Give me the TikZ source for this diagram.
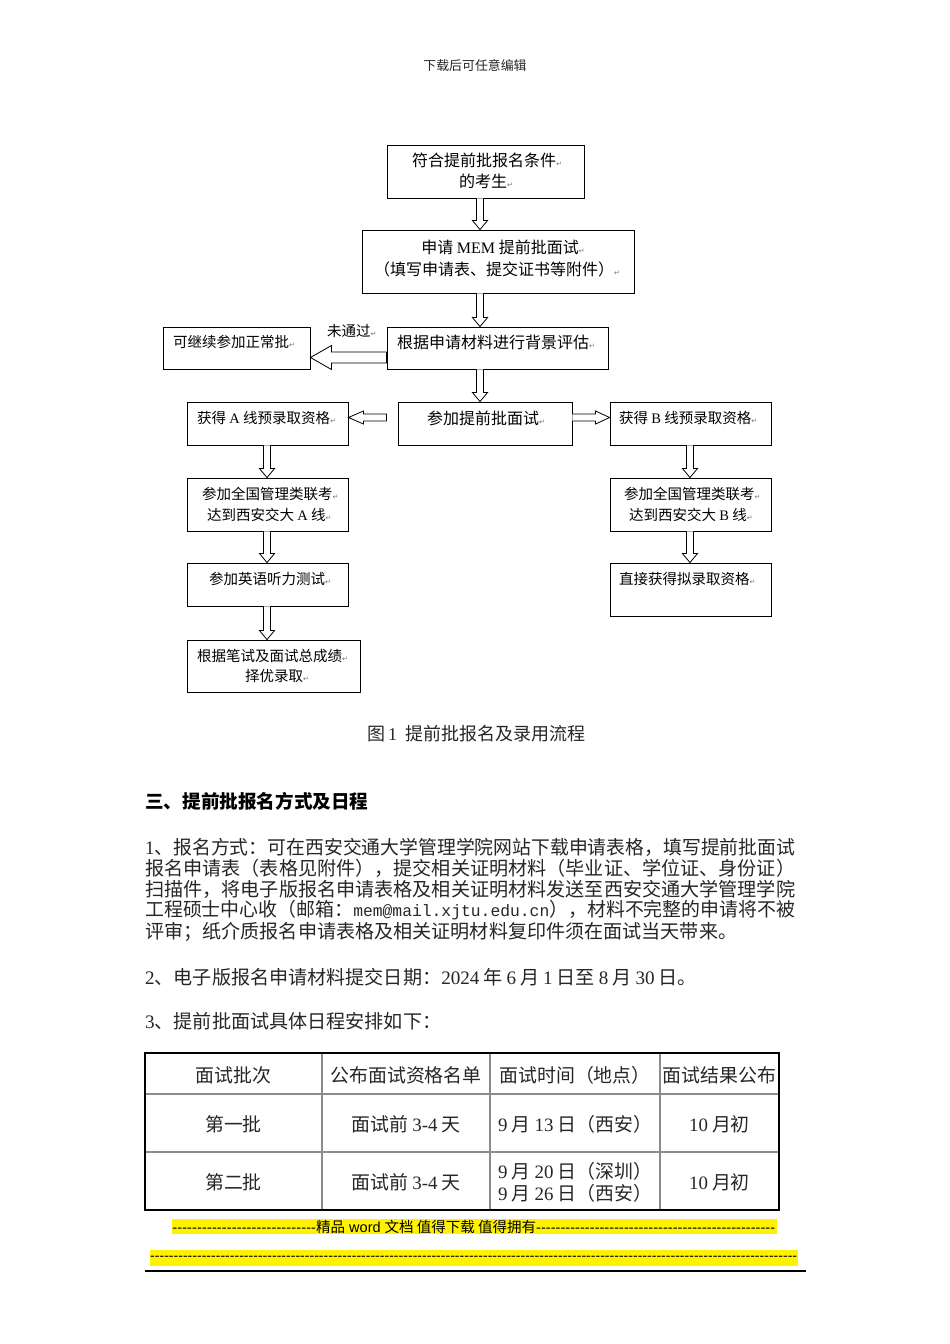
\documentclass[tikz,border=0pt]{standalone}
\usepackage{fontspec}
\usepackage{graphicx}
\usetikzlibrary{calc}
\setmainfont{Liberation Serif}
\newfontfamily\cjk{Noto Sans CJK SC}
\newfontfamily\dv{DejaVu Sans}
\newfontfamily\arial{Liberation Sans}
\newfontfamily\mono{Liberation Mono}
\newcommand\pmk{{\dv\fontsize{7}{7}\selectfont\color{black!55}↵}}
\newcommand\lat[1]{{\rmfamily #1}}
\newcommand\gp{\hspace{4pt}}
\newcommand\fbx[5]{\node[fbox, minimum width={#4-#2}, minimum height={#5-#3}] (#1) at ({(#2+#4)/2},{(#3+#5)/2}) {};}
% down arrow: src, tgt, x
\newcommand\darr[3]{%
  \coordinate (s) at (#1.south -| #3,0);
  \coordinate (e) at (#2.north -| #3,0);
  \draw[harrow] ($(s)+(-3.5,0)$) -- ($(e)+(-3.5,-9)$) -- ($(e)+(-7.5,-9)$) -- (e) -- ($(e)+(7.5,-9)$) -- ($(e)+(3.5,-9)$) -- ($(s)+(3.5,0)$);}
% left arrow: src, tgt, y, half shaft, half head, head len, src gap
\newcommand\larr[7]{%
  \coordinate (s) at ($(#1.west |- 0,#3)+(-#7,0)$);
  \coordinate (e) at (#2.east |- 0,#3);
  \draw[harrow] ($(s)+(0,-#4)$) -- ($(e)+(#6,-#4)$) -- ($(e)+(#6,-#5)$) -- (e) -- ($(e)+(#6,#5)$) -- ($(e)+(#6,#4)$) -- ($(s)+(0,#4)$) -- cycle;}
% right arrow
\newcommand\rarr[6]{%
  \coordinate (s) at (#1.east |- 0,#3);
  \coordinate (e) at (#2.west |- 0,#3);
  \draw[harrow] ($(s)+(0,-#4)$) -- ($(e)+(-#6,-#4)$) -- ($(e)+(-#6,-#5)$) -- (e) -- ($(e)+(-#6,#5)$) -- ($(e)+(-#6,#4)$) -- ($(s)+(0,#4)$);}
\tikzset{
  fbox/.style={draw, line width=0.9pt, inner sep=0pt},
  harrow/.style={draw, line width=0.8pt, fill=white, line join=miter},
  ft/.style={inner sep=0pt, font=\cjk\fontsize{16}{16}\selectfont},
  fs/.style={inner sep=0pt, font=\cjk\fontsize{14.5}{14.5}\selectfont},
  body/.style={inner sep=0pt, anchor=west, text=black!85, font=\cjk\fontsize{19.1}{19}\selectfont},
  cell/.style={inner sep=0pt, text=black!85, font=\cjk\fontsize{18.9}{19}\selectfont},
  tline/.style={line width=1.6pt, draw=black!45},
}
\begin{document}
\begin{tikzpicture}[x=1pt,y=-1pt]
\useasboundingbox[fill=white] (0,0) rectangle (950,1344);
\node[inner sep=0pt, text=black!85, font=\cjk\fontsize{12.9}{13}\selectfont] (hdr) at (475,66) {下载后可任意编辑};

% ---------- flowchart boxes
\fbx{b1}{387}{145}{584}{198}
\fbx{b2}{362}{230}{634}{293}
\fbx{b3}{387}{327}{608}{369}
\fbx{b4}{163}{327}{310}{369}
\fbx{b5}{398}{402}{572}{445}
\fbx{b6}{187}{402}{348}{445}
\fbx{b7}{610}{402}{771}{445}
\fbx{b8}{187}{478}{348}{531}
\fbx{b9}{610}{478}{771}{531}
\fbx{b10}{187}{563}{348}{606}
\fbx{b11}{610}{563}{771}{616}
\fbx{b12}{187}{640}{360}{692}

% ---------- texts
\node[ft] (t1a) at (487,160) {符合提前批报名条件\pmk};
\node[ft] (t1b) at (486,181) {的考生\pmk};
\node[ft] (t2a) at (503,247) {申请 \lat{MEM} 提前批面试\pmk};
\node[ft] (t2b) at (497,269) {（填写申请表、提交证书等附件）\pmk};
\node[ft, anchor=west] (t3) at (397,342) {根据申请材料进行背景评估\pmk};
\node[fs, anchor=west] (t4) at (173,342) {可继续参加正常批\pmk};
\node[fs, anchor=west] (lbl) at (327,331) {未通过\pmk};
\node[ft, anchor=west] (t5) at (427,418) {参加提前批面试\pmk};
\node[fs, anchor=west] (t6) at (197,418) {获得 \lat{A} 线预录取资格\pmk};
\node[fs, anchor=west] (t7) at (619,418) {获得 \lat{B} 线预录取资格\pmk};
\node[fs, anchor=west] (t8a) at (202,494) {参加全国管理类联考\pmk};
\node[fs, anchor=west] (t8b) at (207,515) {达到西安交大 \lat{A} 线\pmk};
\node[fs, anchor=west] (t9a) at (624,494) {参加全国管理类联考\pmk};
\node[fs, anchor=west] (t9b) at (629,515) {达到西安交大 \lat{B} 线\pmk};
\node[fs, anchor=west] (t10) at (209,579) {参加英语听力测试\pmk};
\node[fs, anchor=west] (t11) at (619,579) {直接获得拟录取资格\pmk};
\node[fs, anchor=west] (t12a) at (197,656) {根据笔试及面试总成绩\pmk};
\node[fs, anchor=west] (t12b) at (245,676) {择优录取\pmk};

% ---------- arrows
\darr{b1}{b2}{480}
\darr{b2}{b3}{480}
\darr{b3}{b5}{480}
\larr{b3}{b4}{357.5}{5.5}{12}{21}{0}
\larr{b5}{b6}{417.5}{3.5}{6.5}{15}{11}
\rarr{b5}{b7}{417.5}{3.5}{6.5}{14}
\darr{b6}{b8}{267}
\darr{b8}{b10}{267}
\darr{b10}{b12}{267}
\darr{b7}{b9}{690}
\darr{b9}{b11}{690}

% ---------- caption
\node[inner sep=0pt, text=black!85, font=\cjk\fontsize{18}{18}\selectfont] (cap) at (476,734) {图\,\lat{1}\hspace{8pt}提前批报名及录用流程};

% ---------- section text
\node[inner sep=0pt, anchor=west, font=\cjk\bfseries\fontsize{18.6}{19}\selectfont] (h3) at (145,801) {三、提前批报名方式及日程};
\node[body] (p1) at (145,847) {\resizebox{650pt}{\height}{\lat{1}、报名方式：可在西安交通大学管理学院网站下载申请表格，填写提前批面试}};
\node[body] (p2) at (145,868) {\resizebox{650pt}{\height}{报名申请表（表格见附件），提交相关证明材料（毕业证、学位证、身份证）}};
\node[body] (p3) at (145,889) {\resizebox{650pt}{\height}{扫描件，将电子版报名申请表格及相关证明材料发送至西安交通大学管理学院}};
\node[body] (p4) at (145,910) {\resizebox{650pt}{\height}{工程硕士中心收（邮箱：{\mono\fontsize{16.5}{17}\selectfont mem@mail.xjtu.edu.cn}），材料不完整的申请将不被}};
\node[body] (p5) at (145,932) {评审；纸介质报名申请表格及相关证明材料复印件须在面试当天带来。};
\node[body] (q2) at (145,977) {\lat{2}、电子版报名申请材料提交日期：\lat{2024}\gp 年\gp\lat{6}\gp 月\gp\lat{1}\gp 日至\gp\lat{8}\gp 月\gp\lat{30}\gp 日。};
\node[body] (q3) at (145,1021) {\lat{3}、提前批面试具体日程安排如下：};

% ---------- table
\draw[tline] (322,1053) -- (322,1210) (490,1053) -- (490,1210) (660,1053) -- (660,1210);
\draw[tline] (145,1094) -- (779,1094) (145,1152) -- (779,1152);
\draw[line width=1.3pt] (145,1053) rectangle (779,1210);
\node[cell] (c11) at (233.5,1075) {面试批次};
\node[cell] (c12) at (406,1075) {公布面试资格名单};
\node[cell] (c13) at (575,1075) {面试时间（地点）};
\node[cell] (c14) at (719.5,1075) {面试结果公布};
\node[cell] (c21) at (233.5,1124) {第一批};
\node[cell] (c22) at (406,1124) {面试前\gp\lat{3-4}\gp 天};
\node[cell, anchor=west] (c23) at (498,1124) {\lat{9}\gp 月\gp\lat{13}\gp 日（西安）};
\node[cell] (c24) at (719.5,1124) {\lat{10}\gp 月初};
\node[cell] (c31) at (233.5,1182) {第二批};
\node[cell] (c32) at (406,1182) {面试前\gp\lat{3-4}\gp 天};
\node[cell, anchor=west] (c33a) at (498,1171) {\lat{9}\gp 月\gp\lat{20}\gp 日（深圳）};
\node[cell, anchor=west] (c33b) at (498,1193) {\lat{9}\gp 月\gp\lat{26}\gp 日（西安）};
\node[cell] (c34) at (719.5,1182) {\lat{10}\gp 月初};

% ---------- footer
\fill[yellow] (172,1219) rectangle (777,1234);
\fill[yellow] (150,1250) rectangle (798,1266);
\node[inner sep=0pt, anchor=west, font=\arial\fontsize{14.5}{15}\selectfont] (f1) at (172,1227)
  {\hbox to 603pt{\hbox to 144pt{\xleaders\hbox{-}\hfill}{\cjk 精品} word {\cjk 文档 值得下载 值得拥有}\xleaders\hbox{-}\hfill}};
\node[inner sep=0pt, anchor=west, font=\arial\fontsize{14}{15}\selectfont] (f2) at (150,1258)
  {\hbox to 647pt{\xleaders\hbox{-}\hfill}};
\draw[line width=1.3pt] (145,1271) -- (806,1271);
\end{tikzpicture}
\end{document}
